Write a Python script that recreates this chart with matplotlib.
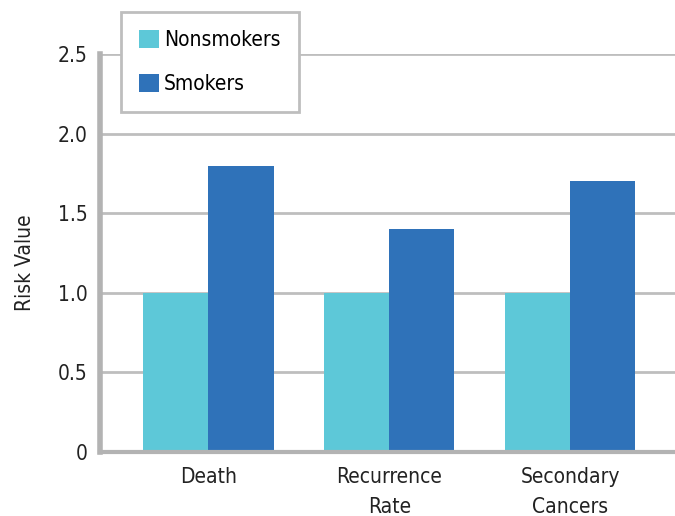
import matplotlib

matplotlib.use("Agg")
import matplotlib.pyplot as plt
import numpy as np

# values
categories = ["Death", "Recurrence\nRate", "Secondary\nCancers"]
nonsmokers = [1.0, 1.0, 1.0]
smokers = [1.8, 1.4, 1.7]
yticks = [0, 0.5, 1.0, 1.5, 2.0, 2.5]
ytick_labels = ["0", "0.5", "1.0", "1.5", "2.0", "2.5"]

plt.rcParams["font.family"] = ["DejaVu Sans"]
plt.rcParams["font.stretch"] = "condensed"

fig = plt.figure(figsize=(6.75, 5.16), dpi=100)
ax = fig.add_axes([0.148, 0.124, 0.852, 0.771])

x = np.arange(len(categories))
w = 0.36
ax.bar(x - w / 2, nonsmokers, w, color="#5DC8D8", label="Nonsmokers", zorder=2)
ax.bar(x + w / 2, smokers, w, color="#2F72B9", label="Smokers", zorder=2)

ax.set_xlim(-0.6, 2.58)
ax.set_ylim(0, 2.5)
ax.set_yticks(yticks)
ax.set_yticklabels(ytick_labels)
ax.set_xticks(x)
ax.set_xticklabels(categories, linespacing=1.6)
ax.tick_params(length=0, labelsize=15, colors="#222222")
ax.tick_params(axis="y", pad=9)
ax.tick_params(axis="x", pad=11)

ax.set_axisbelow(True)
ax.grid(axis="y", color="#BEBEBE", linewidth=2)
for s in ["top", "right"]:
    ax.spines[s].set_visible(False)
ax.spines["left"].set_color("#B3B3B3")
ax.spines["left"].set_linewidth(4)
ax.spines["bottom"].set_color("#B3B3B3")
ax.spines["bottom"].set_linewidth(3)

ax.set_ylabel("Risk Value", fontsize=15, color="#222222")
ax.yaxis.set_label_coords(-0.113, 0.477)

leg = fig.legend(
    loc="upper left",
    bbox_to_anchor=(121 / 675, 1 - 12 / 516),
    fontsize=15,
    frameon=True,
    fancybox=False,
    handlelength=0.95,
    handleheight=0.95,
    handletextpad=0.22,
    labelspacing=1.12,
    borderpad=0.88,
    borderaxespad=0,
)
leg.get_frame().set_edgecolor("#BEBEBE")
leg.get_frame().set_linewidth(2)
leg.get_frame().set_alpha(1)

fig.savefig("out.png", dpi=100)
